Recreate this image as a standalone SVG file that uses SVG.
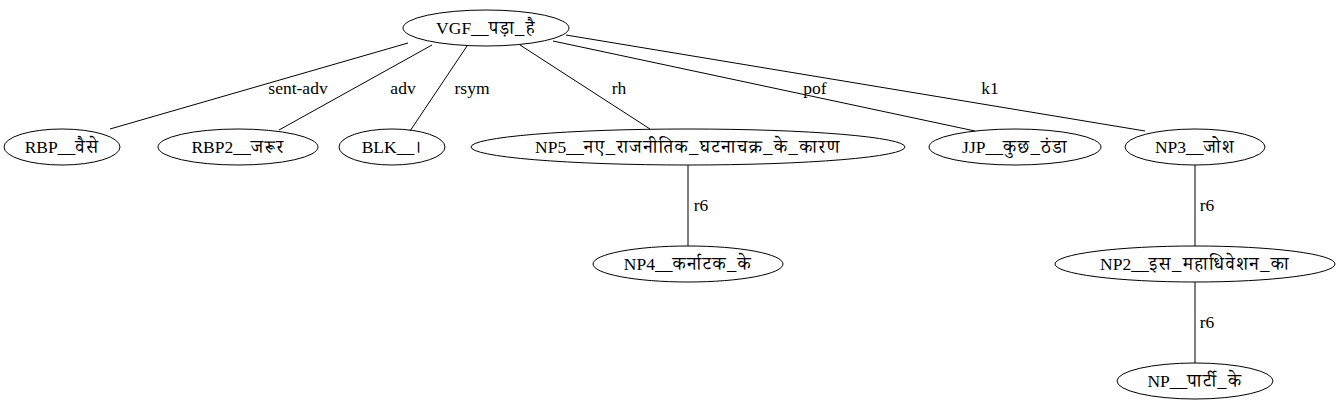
<svg xmlns="http://www.w3.org/2000/svg" width="1341" height="411" viewBox="0 0 1341 411">
<style>
text{font-family:"Liberation Serif","Noto Serif Devanagari","Noto Sans Devanagari","Lohit Devanagari","FreeSerif",serif;font-size:17.5px;fill:#000;text-anchor:middle}
.d{font-size:18.5px;letter-spacing:1.4px}
ellipse{fill:none;stroke:#000;stroke-width:1}
.e line{stroke:#000;stroke-width:1}
</style>
<rect width="1341" height="411" fill="#fff"/>
<g class="e" id="edges">
<line x1="408" y1="43" x2="110" y2="129"/>
<line x1="432" y1="45" x2="279" y2="130"/>
<line x1="467" y1="46" x2="410" y2="131"/>
<line x1="520" y1="45" x2="650" y2="129"/>
<line x1="553" y1="41" x2="975" y2="131"/>
<line x1="566" y1="35" x2="1145" y2="131"/>
<line x1="688" y1="165" x2="688" y2="246"/>
<line x1="1195" y1="165" x2="1195" y2="246"/>
<line x1="1195" y1="282" x2="1195" y2="363"/>
<text x="298" y="94">sent-adv</text>
<text x="403" y="94">adv</text>
<text x="472" y="94">rsym</text>
<text x="619" y="94">rh</text>
<text x="815" y="94">pof</text>
<text x="990" y="94">k1</text>
<text x="701" y="211">r6</text>
<text x="1207" y="211">r6</text>
<text x="1207" y="328">r6</text>
</g>
<g id="VGF"><ellipse cx="486" cy="28" rx="83" ry="18"/><text x="486" y="34">VGF__<tspan class="d">पड़ा_है</tspan></text></g>
<g id="RBP"><ellipse cx="62" cy="147" rx="58" ry="18"/><text x="62" y="153">RBP__<tspan class="d">वैसे</tspan></text></g>
<g id="RBP2"><ellipse cx="238" cy="147" rx="80" ry="18"/><text x="238" y="153">RBP2__<tspan class="d">जरूर</tspan></text></g>
<g id="BLK"><ellipse cx="392" cy="147" rx="53" ry="18"/><text x="392" y="153">BLK__<tspan class="d">।</tspan></text></g>
<g id="NP5"><ellipse cx="688" cy="147" rx="217" ry="18"/><text x="688" y="153">NP5__<tspan class="d">नए_राजनीतिक_घटनाचक्र_के_कारण</tspan></text></g>
<g id="JJP"><ellipse cx="1015" cy="147" rx="86" ry="18"/><text x="1015" y="153">JJP__<tspan class="d">कुछ_ठंडा</tspan></text></g>
<g id="NP3"><ellipse cx="1195" cy="147" rx="70" ry="18"/><text x="1195" y="153">NP3__<tspan class="d">जोश</tspan></text></g>
<g id="NP4"><ellipse cx="688" cy="264" rx="95" ry="18"/><text x="688" y="270">NP4__<tspan class="d">कर्नाटक_के</tspan></text></g>
<g id="NP2"><ellipse cx="1195" cy="264" rx="140" ry="18"/><text x="1195" y="270">NP2__<tspan class="d">इस_महाधिवेशन_का</tspan></text></g>
<g id="NP"><ellipse cx="1195" cy="381" rx="78" ry="18"/><text x="1195" y="387">NP__<tspan class="d">पार्टी_के</tspan></text></g>
</svg>
